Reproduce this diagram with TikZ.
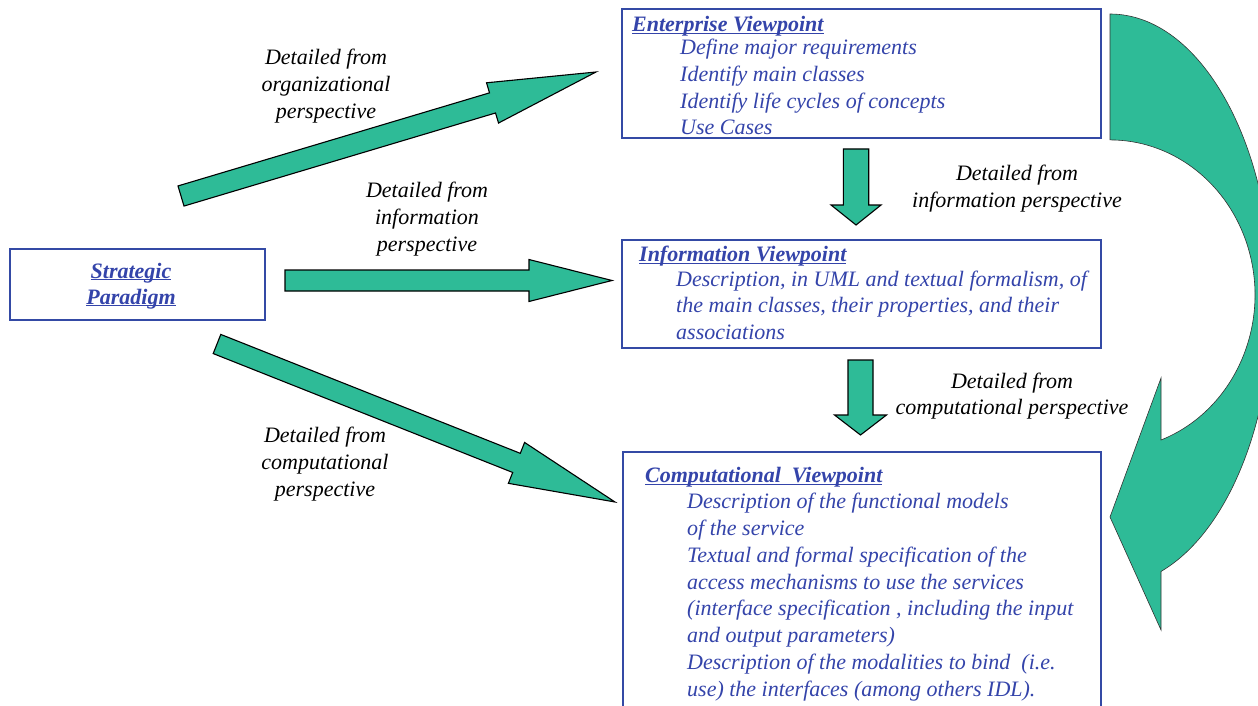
\documentclass[tikz,border=0pt]{standalone}
\usepackage{fontspec}
\setmainfont{Liberation Serif}
\usetikzlibrary{calc}

\definecolor{viewblue}{RGB}{52,68,170}
\definecolor{frameblue}{RGB}{52,74,165}
\definecolor{flowgreen}{RGB}{46,187,151}

\tikzset{
  frame/.style={draw=frameblue, line width=1.7pt, fill=white, inner sep=0pt},
  vtitle/.style={font=\fontsize{22}{26.6}\selectfont\bfseries\itshape, text=viewblue, inner sep=0pt, anchor=base west},
  vitem/.style={font=\fontsize{22}{26.6}\selectfont\itshape, text=viewblue, inner sep=0pt, anchor=base west},
  note/.style={font=\fontsize{22}{26.6}\selectfont\itshape, align=center, inner sep=0pt},
  fat/.style={fill=flowgreen, draw=black, line width=1.1pt, line join=miter},
  curl/.style={fill=flowgreen, draw=black!80, line width=0.6pt},
}

% block arrow: #1 tail, #2 tip, #3 half shaft width, #4 half head width, #5 head length
\newcommand\blockarrow[5]{%
  \coordinate (ba-neck) at ($(#2)!#5!(#1)$);
  \draw[fat] ($(#1)!#3!90:(#2)$) -- ($(ba-neck)!#3!90:(#2)$)
    -- ($(ba-neck)!#4!90:(#2)$) -- (#2)
    -- ($(ba-neck)!#4!-90:(#2)$) -- ($(ba-neck)!#3!-90:(#2)$)
    -- ($(#1)!#3!-90:(#2)$) -- cycle;
}

\begin{document}
\begin{tikzpicture}[x=1pt,y=-1pt]
\useasboundingbox (0,0) rectangle (1258,706);

% --- frames ---
\node[frame, minimum width=255pt, minimum height=71pt, anchor=north west] (strat) at (9,248) {};
\node[frame, minimum width=479pt, minimum height=129pt, anchor=north west] (ent) at (621,8) {};
\node[frame, minimum width=479pt, minimum height=108pt, anchor=north west] (inf) at (621,239) {};
\node[frame, minimum width=478pt, minimum height=275pt, anchor=north west] (comp) at (622,451) {};

% --- strategic paradigm ---
\node[vtitle, anchor=base] (strat-1) at (131,278) {\underbar{Strategic}};
\node[vtitle, anchor=base] (strat-2) at (131,304) {\underbar{Paradigm}};

% --- enterprise viewpoint ---
\node[vtitle] (ent-t) at (632,32) {\underbar{Enterprise Viewpoint}};
\foreach \t [count=\i from 0] in {Define major requirements, Identify main classes,
    Identify life cycles of concepts, Use Cases}
  \node[vitem] (ent-\i) at (680,55+26.6*\i) {\t};

% --- information viewpoint ---
\node[vtitle] (inf-t) at (639,261.5) {\underbar{Information Viewpoint}};
\foreach \t [count=\i from 0] in {{Description, in UML and textual formalism, of},
    {the main classes, their properties, and their}, associations}
  \node[vitem] (inf-\i) at (676,286+26.6*\i) {\t};

% --- computational viewpoint ---
\node[vtitle] (comp-t) at (645,482.5) {\underbar{Computational\ \ Viewpoint}};
\foreach \t [count=\i from 0] in {Description of the functional models,
    of the service,
    Textual and formal specification of the,
    access mechanisms to use the services,
    {(interface specification , including the input},
    and output parameters),
    Description of the modalities to bind\ \ (i.e.,
    use) the interfaces (among others IDL).}
  \node[vitem] (comp-\i) at (687,508.5+26.85*\i) {\t};

% --- flow arrows ---
\coordinate (org-tail) at (181,196);
\coordinate (org-tip)  at (596,72);
\coordinate (info-tail) at (285,280.5);
\coordinate (info-tip)  at (612,280.5);
\coordinate (cmp-tail) at (217,344);
\coordinate (cmp-tip)  at (615,502);
\coordinate (ei-tail) at (856,149);
\coordinate (ei-tip)  at (856,225);
\coordinate (ic-tail) at (860.5,360);
\coordinate (ic-tip)  at (860.5,435);

\blockarrow{org-tail}{org-tip}{10.5pt}{21pt}{108pt}
\blockarrow{info-tail}{info-tip}{10.5pt}{21pt}{83pt}
\blockarrow{cmp-tail}{cmp-tip}{10.3pt}{22pt}{106pt}
\blockarrow{ei-tail}{ei-tip}{12.7pt}{25pt}{20pt}
\blockarrow{ic-tail}{ic-tip}{12.5pt}{26pt}{20pt}

% --- return arrow on the right ---
\draw[curl] (1110,14)
  arc[start angle=90, end angle=-71.65, x radius=162pt, y radius=286pt]
  -- (1161,630) -- (1110,517) -- (1161,378) -- (1161,440)
  arc[start angle=-69.4, end angle=90, x radius=145pt, y radius=155pt]
  -- cycle;

% --- arrow labels ---
\node[note] (lbl-org)  at (326,86)  {Detailed from\\organizational\\perspective};
\node[note] (lbl-inf)  at (427,219) {Detailed from\\information\\perspective};
\node[note] (lbl-cmp)  at (325,464) {Detailed from\\computational\\perspective};
\node[note] (lbl-ei)   at (1017,188.5) {Detailed from\\information perspective};
\node[note] (lbl-ic)   at (1012,396)  {Detailed from\\computational perspective};
\end{tikzpicture}
\end{document}
